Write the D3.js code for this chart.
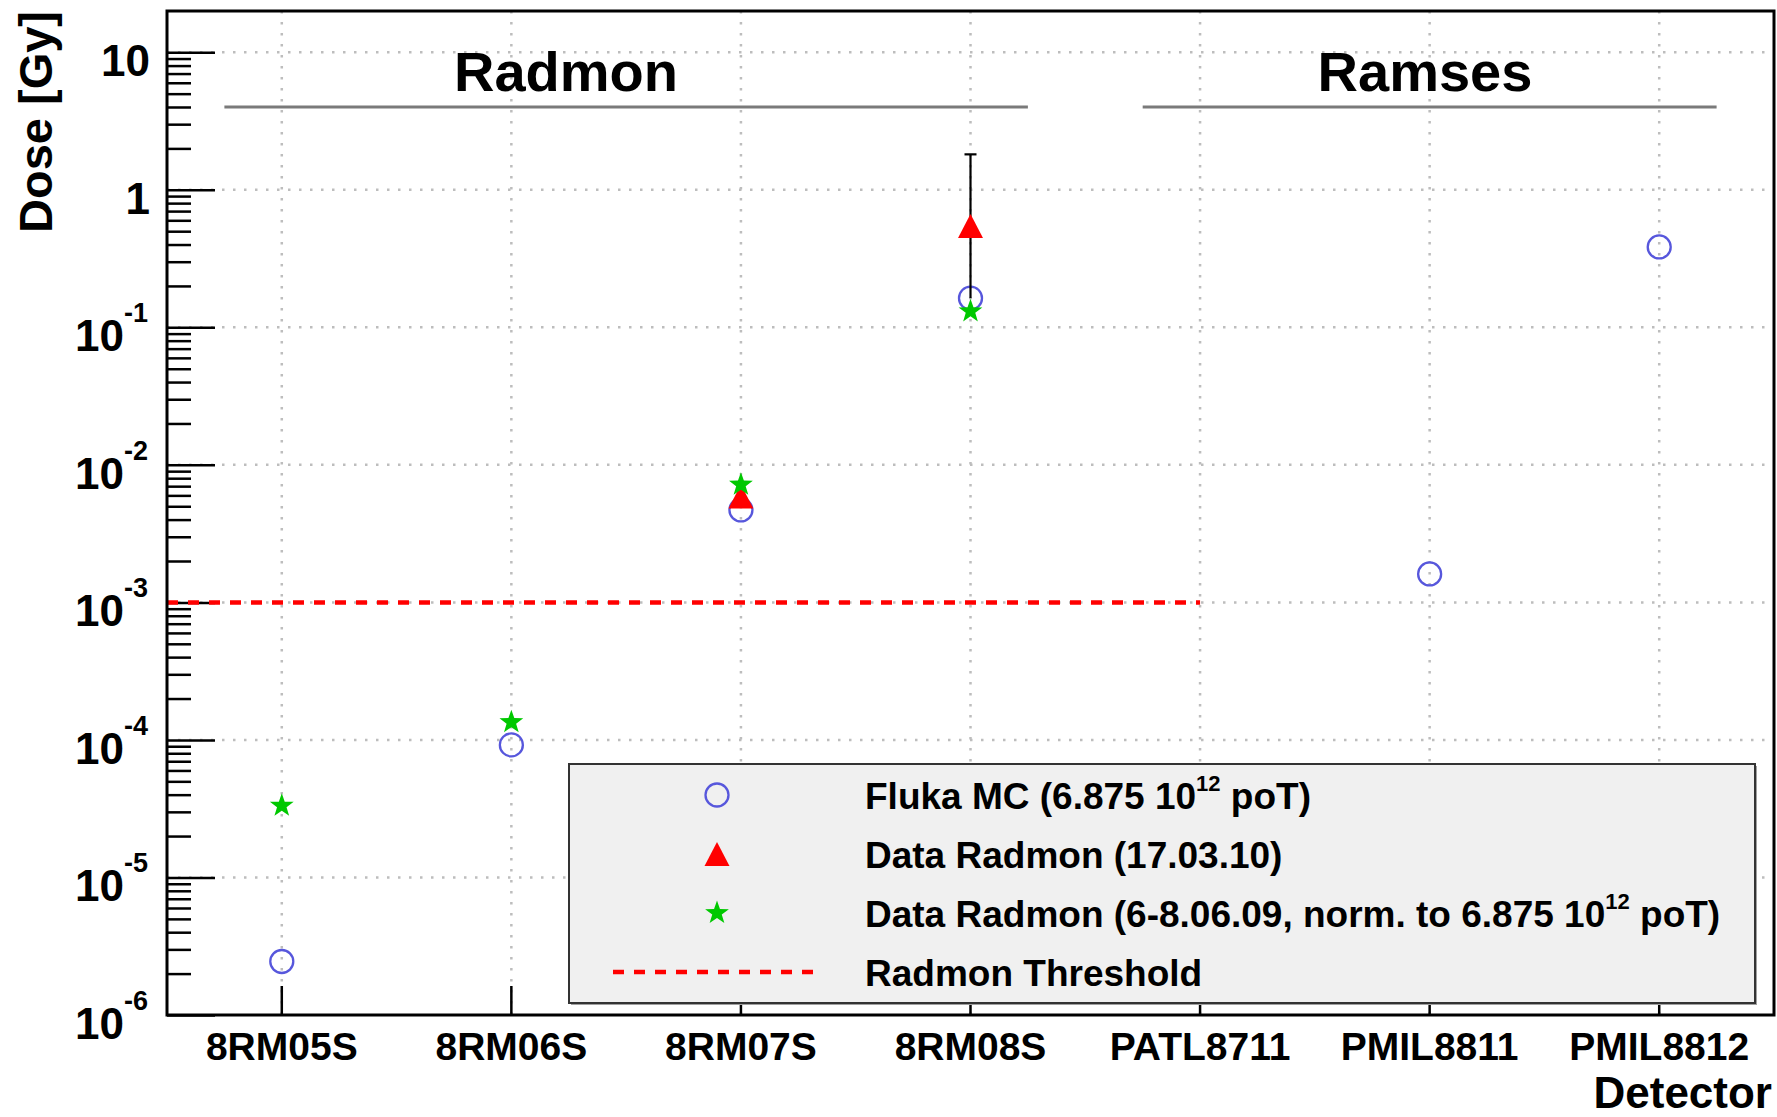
<!DOCTYPE html>
<html>
<head>
  <title>Dose per detector</title>
  <script src="https://d3js.org/d3.v7.min.js"></script>
  <style>
    body { margin: 0; background: white; }
    text { font-family: "Liberation Sans", Arial, Helvetica, sans-serif; font-weight: bold; }
  </style>
</head>
<body>
<svg id="canvas"></svg>
<script>
// data
var detectors = ["8RM05S", "8RM06S", "8RM07S", "8RM08S", "PATL8711", "PMIL8811", "PMIL8812"];
var flukaMC   = [2.45e-6, 9.2e-5, 4.7e-3, 0.163, null, 1.61e-3, 0.384];
var radmon10  = [null, null, 5.9e-3, 0.545, null, null, null];
var radmon10Lo = [null, null, null, 0.163, null, null, null];
var radmon10Hi = [null, null, null, 1.81, null, null, null];
var radmon09  = [3.38e-5, 1.37e-4, 7.3e-3, 0.133, null, null, null];
var threshold = 1e-3;
var majorTicks = [1e-6, 1e-5, 1e-4, 1e-3, 1e-2, 1e-1, 1, 10];
var majorLabels = [["10", "-6"], ["10", "-5"], ["10", "-4"], ["10", "-3"], ["10", "-2"], ["10", "-1"], ["1", ""], ["10", ""]];
var legendNames = [
  ["Fluka MC (6.875 10", "12", " poT)"],
  ["Data Radmon (17.03.10)", "", ""],
  ["Data Radmon (6-8.06.09, norm. to 6.875 10", "12", " poT)"],
  ["Radmon Threshold", "", ""]
];

var W = 1777, H = 1117;
var plotL = 167, plotR = 1774, plotT = 11, plotB = 1015;

var blue = "#5757dc", red = "#ff0000", green = "#00c800";

var svg = d3.select("#canvas").attr("width", W).attr("height", H);

var x = d3.scaleBand().domain(detectors).range([plotL, plotR]).padding(0);
var bw = x.bandwidth();
function cx(d) { return x(d) + bw / 2; }
var y = d3.scaleLog().domain([1e-6, Math.pow(10, 1.3)]).range([plotB, plotT]);

// grid
var grid = svg.append("g").attr("stroke", "#bdbdbd").attr("stroke-width", 2.5)
  .attr("stroke-dasharray", "2.5 8.5");
grid.selectAll(".gy").data(majorTicks.slice(1)).enter().append("line")
  .attr("x1", plotL).attr("x2", plotR)
  .attr("y1", function(d) { return y(d); }).attr("y2", function(d) { return y(d); });
grid.selectAll(".gx").data(detectors).enter().append("line")
  .attr("x1", cx).attr("x2", cx)
  .attr("y1", plotT).attr("y2", plotB);

// minor ticks
var minors = [];
majorTicks.forEach(function(m) {
  for (var k = 2; k < 10; k++) if (m * k < y.domain()[1]) minors.push(m * k);
});

var yMinor = svg.append("g").attr("transform", "translate(" + plotL + ",0)")
  .call(d3.axisLeft(y).tickValues(minors).tickSize(-24).tickFormat(""));
var yMajor = svg.append("g").attr("transform", "translate(" + plotL + ",0)")
  .call(d3.axisLeft(y).tickValues(majorTicks).tickSize(-48).tickFormat(""));
[yMinor, yMajor].forEach(function(g) {
  g.select(".domain").remove();
  g.selectAll("line").attr("stroke", "black").attr("stroke-width", 2.5);
});

// y labels with exponents
var yl = svg.append("g");
majorTicks.forEach(function(v, i) {
  var t = yl.append("text")
    .attr("x", majorLabels[i][1] ? 148 : 150)
    .attr("y", y(v) + 24)
    .attr("text-anchor", "end")
    .style("font-size", "44px");
  t.append("tspan").text(majorLabels[i][0]);
  if (majorLabels[i][1]) {
    t.append("tspan").attr("dy", -29).style("font-size", "27px").text(majorLabels[i][1]);
  }
});

// x axis
var xAxis = svg.append("g").attr("transform", "translate(0," + plotB + ")")
  .call(d3.axisBottom(x).tickSize(-29).tickPadding(17));
xAxis.select(".domain").remove();
xAxis.selectAll("line").attr("stroke", "black").attr("stroke-width", 2.5);
xAxis.selectAll("text").attr("fill", "black")
  .style("font-size", "39px").style("font-family", null);

// axis titles
svg.append("text")
  .attr("transform", "translate(52," + plotT + ") rotate(-90)")
  .attr("text-anchor", "end")
  .style("font-size", "47px")
  .text("Dose [Gy]");
svg.append("text")
  .attr("x", 1772).attr("y", 1108)
  .attr("text-anchor", "end")
  .style("font-size", "44px")
  .text("Detector");

// group headers
var groups = [
  { name: "Radmon", first: "8RM05S", last: "8RM08S", tx: 566 },
  { name: "Ramses", first: "PATL8711", last: "PMIL8812", tx: 1425 }
];
groups.forEach(function(g) {
  svg.append("text").attr("x", g.tx).attr("y", 91)
    .attr("text-anchor", "middle").style("font-size", "56px").text(g.name);
  svg.append("line")
    .attr("x1", x(g.first) + bw * 0.25).attr("x2", x(g.last) + bw * 0.75)
    .attr("y1", 107).attr("y2", 107)
    .attr("stroke", "#7a7a7a").attr("stroke-width", 3);
});

// threshold
svg.append("line")
  .attr("x1", plotL).attr("x2", cx("PATL8711"))
  .attr("y1", y(threshold)).attr("y2", y(threshold))
  .attr("stroke", red).attr("stroke-width", 4.5).attr("stroke-dasharray", "11 10");

// marker shapes
function triPath(s) { return "M0," + (-s) + "L" + (s * 1.04) + "," + s + "L" + (-s * 1.04) + "," + s + "Z"; }
function starPath(R) {
  var r = R * 0.4, pts = [];
  for (var i = 0; i < 10; i++) {
    var a = -Math.PI / 2 + i * Math.PI / 5, rr = i % 2 ? r : R;
    pts.push([rr * Math.cos(a), rr * Math.sin(a)]);
  }
  return "M" + pts.map(function(p) { return p[0].toFixed(2) + "," + p[1].toFixed(2); }).join("L") + "Z";
}

function series(vals) {
  return detectors.map(function(d, i) { return { d: d, v: vals[i], i: i }; })
    .filter(function(p) { return p.v != null; });
}

// fluka circles
svg.append("g").selectAll("circle").data(series(flukaMC)).enter().append("circle")
  .attr("cx", function(p) { return cx(p.d); })
  .attr("cy", function(p) { return y(p.v); })
  .attr("r", 11.5).attr("fill", "none").attr("stroke", blue).attr("stroke-width", 2.3);

// error bars for 2010 radmon
var eb = svg.append("g").attr("stroke", "black").attr("stroke-width", 2.2);
series(radmon10Hi).forEach(function(p) {
  var lo = radmon10Lo[p.i];
  eb.append("line").attr("x1", cx(p.d)).attr("x2", cx(p.d))
    .attr("y1", y(lo)).attr("y2", y(p.v));
  eb.append("line").attr("x1", cx(p.d) - 6).attr("x2", cx(p.d) + 6)
    .attr("y1", y(p.v)).attr("y2", y(p.v));
});

// radmon 2010 triangles
svg.append("g").selectAll("path").data(series(radmon10)).enter().append("path")
  .attr("d", triPath(12))
  .attr("transform", function(p) { return "translate(" + cx(p.d) + "," + y(p.v) + ")"; })
  .attr("fill", red);

// radmon 2009 stars
svg.append("g").selectAll("path").data(series(radmon09)).enter().append("path")
  .attr("d", starPath(12.5))
  .attr("transform", function(p) { return "translate(" + cx(p.d) + "," + (y(p.v) + 1) + ")"; })
  .attr("fill", green);

// frame
svg.append("rect")
  .attr("x", plotL).attr("y", plotT).attr("width", plotR - plotL).attr("height", plotB - plotT)
  .attr("fill", "none").attr("stroke", "black").attr("stroke-width", 3);

// legend
var lg = svg.append("g");
lg.append("rect").attr("x", 571).attr("y", 766).attr("width", 1186).attr("height", 239)
  .attr("fill", "#a0a0a0");
lg.append("rect").attr("x", 569).attr("y", 764).attr("width", 1186).attr("height", 239)
  .attr("fill", "#f0f0f0").attr("stroke", "#333").attr("stroke-width", 2);

var rows = [795, 854, 913, 972];
var mx = 717;
lg.append("circle").attr("cx", mx).attr("cy", rows[0]).attr("r", 11.5)
  .attr("fill", "none").attr("stroke", blue).attr("stroke-width", 2.3);
lg.append("path").attr("d", triPath(12))
  .attr("transform", "translate(" + mx + "," + rows[1] + ")").attr("fill", red);
lg.append("path").attr("d", starPath(12.5))
  .attr("transform", "translate(" + mx + "," + rows[2] + ")").attr("fill", green);
lg.append("line").attr("x1", 613).attr("x2", 820).attr("y1", rows[3]).attr("y2", rows[3])
  .attr("stroke", red).attr("stroke-width", 4.5).attr("stroke-dasharray", "11 10");

legendNames.forEach(function(n, i) {
  var t = lg.append("text").attr("x", 865).attr("y", rows[i] + 14).style("font-size", "37px");
  t.append("tspan").text(n[0]);
  if (n[1]) {
    t.append("tspan").attr("dy", -18).style("font-size", "22px").text(n[1]);
    t.append("tspan").attr("dy", 18).text(n[2]);
  }
});
</script>
</body>
</html>
